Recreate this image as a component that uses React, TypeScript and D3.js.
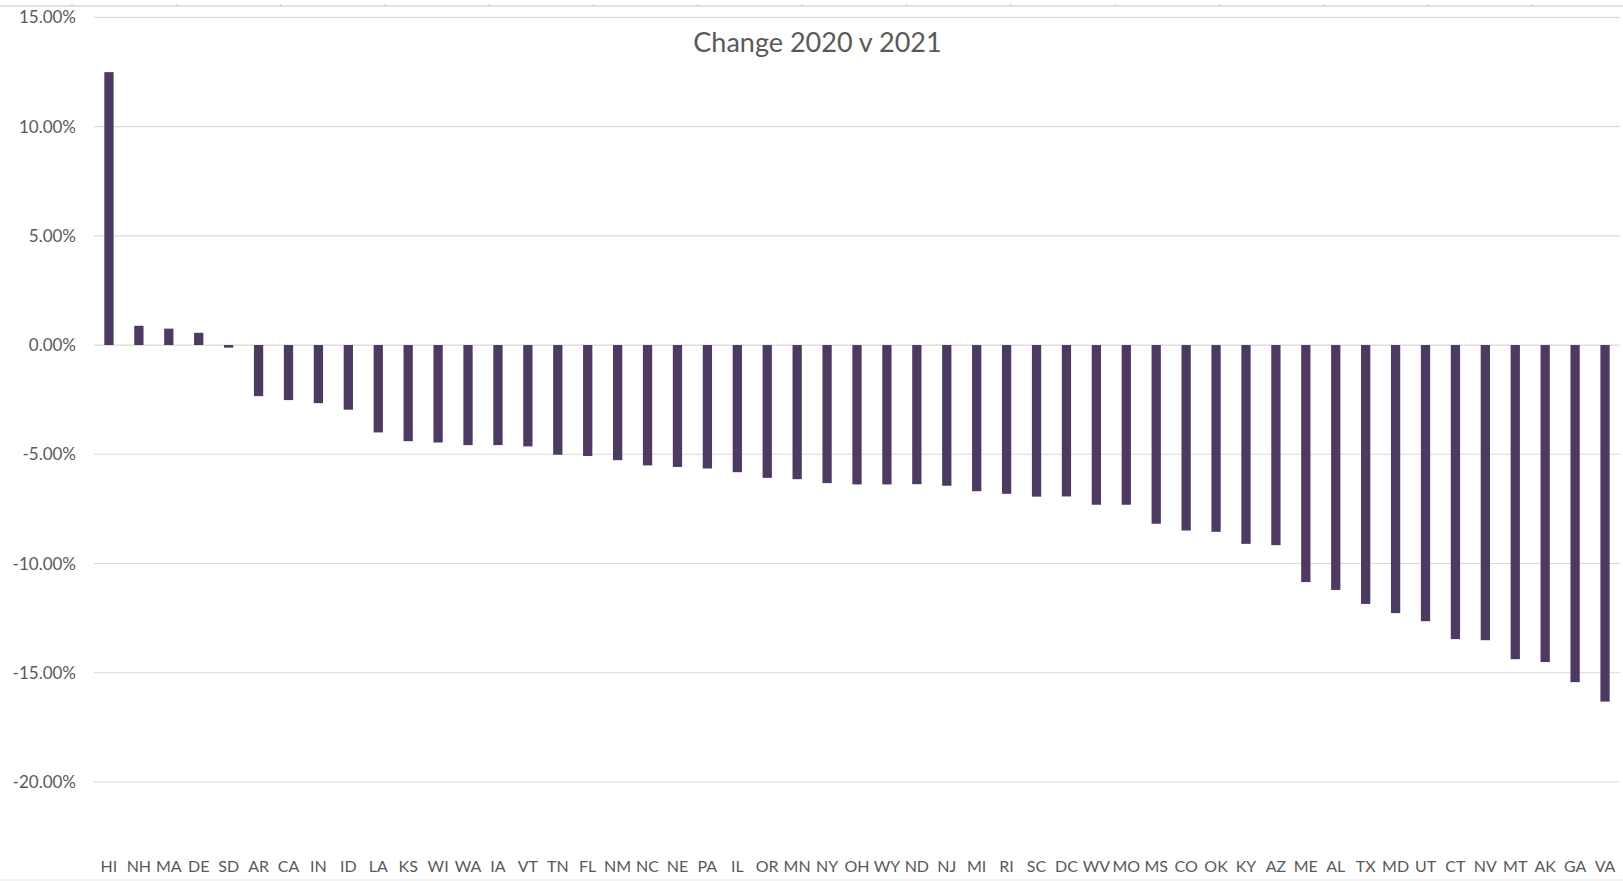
import React from "react";
import * as d3 from "d3";

const states: string[] = [
  "HI","NH","MA","DE","SD","AR","CA","IN","ID","LA","KS","WI","WA","IA","VT","TN","FL","NM","NC","NE",
  "PA","IL","OR","MN","NY","OH","WY","ND","NJ","MI","RI","SC","DC","WV","MO","MS","CO","OK","KY","AZ",
  "ME","AL","TX","MD","UT","CT","NV","MT","AK","GA","VA",
];

const changePct: number[] = [
  12.49, 0.88, 0.75, 0.56, -0.12, -2.34, -2.52, -2.66, -2.96, -4.0, -4.4, -4.46, -4.58, -4.58, -4.64, -5.02, -5.08, -5.27, -5.51, -5.58,
  -5.65, -5.82, -6.08, -6.14, -6.32, -6.38, -6.38, -6.37, -6.44, -6.69, -6.81, -6.94, -6.93, -7.31, -7.31, -8.18, -8.49, -8.55, -9.1, -9.16,
  -10.85, -11.21, -11.85, -12.27, -12.64, -13.46, -13.51, -14.38, -14.51, -15.43, -16.32,
];

const yTicks: number[] = [15, 10, 5, 0, -5, -10, -15, -20];

const title = "Change 2020 v 2021";

const W = 1623;
const H = 881;
const plotLeft = 94;
const plotRight = 1620;
const yTop = 17.3;
const yBottom = 782;

export default function App() {
  const x = d3
    .scaleBand<string>()
    .domain(states)
    .range([plotLeft, plotRight])
    .paddingInner(0.69)
    .paddingOuter(0.345);

  const y = d3.scaleLinear().domain([-20, 15]).range([yBottom, yTop]);

  const headerTicks = d3.range(0, 15).map((k) => 72 + 104.3 * k);
  const fmt = (v: number) => v.toFixed(2) + "%";
  const font = "Lato, 'Open Sans', sans-serif";
  const textColor = "#595959";

  return (
    <svg
      width={W}
      height={H}
      style={{ position: "absolute", left: 0, top: 0, display: "block", background: "#fff" }}
    >
      <rect x={0} y={0} width={W} height={H} fill="#ffffff" />
      <line x1={0} x2={W} y1={6} y2={6} stroke="#e2e2e2" strokeWidth={2} />
      {headerTicks.map((hx, i) => (
        <line key={i} x1={hx} x2={hx} y1={4} y2={6} stroke="#c6c6c6" strokeWidth={1} />
      ))}
      <line x1={0} x2={W} y1={880} y2={880} stroke="#e6e6e6" strokeWidth={1} />

      {yTicks.map((t) => (
        <line
          key={t}
          x1={plotLeft}
          x2={plotRight}
          y1={y(t)}
          y2={y(t)}
          stroke="#d9d9d9"
          strokeWidth={1.2}
        />
      ))}

      {yTicks.map((t) => (
        <text
          key={t}
          x={76}
          y={y(t)}
          dy="0.36em"
          textAnchor="end"
          fontFamily={font}
          fontSize={17}
          fill={textColor}
        >
          {fmt(t)}
        </text>
      ))}

      {states.map((s, i) => {
        const v = changePct[i];
        const y0 = y(Math.max(0, v));
        const y1 = y(Math.min(0, v));
        return (
          <rect
            key={s}
            x={x(s)}
            y={y0}
            width={x.bandwidth()}
            height={Math.max(1, y1 - y0)}
            fill="#4d3a62"
          />
        );
      })}

      {states.map((s) => (
        <text
          key={s}
          x={(x(s) as number) + x.bandwidth() / 2}
          y={871.5}
          textAnchor="middle"
          fontFamily={font}
          fontSize={16}
          fill={textColor}
        >
          {s}
        </text>
      ))}

      <text
        x={817.5}
        y={51.5}
        textAnchor="middle"
        fontFamily={font}
        fontSize={27}
        fill={textColor}
      >
        {title}
      </text>
    </svg>
  );
}
